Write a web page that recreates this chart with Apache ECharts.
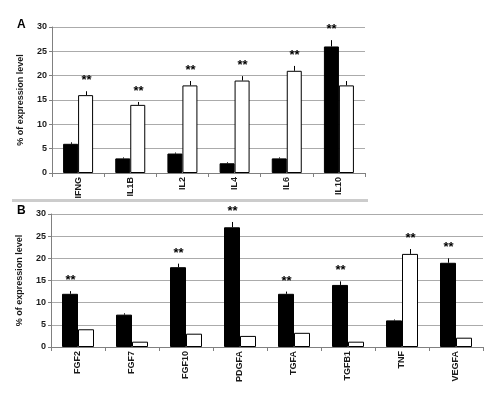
<!DOCTYPE html>
<html><head><meta charset="utf-8">
<script src="https://cdn.jsdelivr.net/npm/echarts@6/dist/echarts.min.js"></script>
<style>html,body{margin:0;padding:0;background:#fff}#c{width:500px;height:393px}</style>
</head><body><div id="c"></div>
<script>
// Panel A data
const catsA = ['IFNG','IL1B','IL2','IL4','IL6','IL10'];
const blackA = [6,3,4,2,3,26];
const whiteA = [16,14,18,19,21,18];
const blackErrA = [0.3,0.2,0.2,0.2,0.2,1.3];
const whiteErrA = [0.8,0.6,0.9,0.9,1.0,0.9];
const starsA = ['white','white','white','white','white','black'];
// Panel B data
const catsB = ['FGF2','FGF7','FGF10','PDGFA','TGFA','TGFB1','TNF','VEGFA'];
const blackB = [12,7.3,18,27,12,14,6,19];
const whiteB = [4,1.2,3,2.5,3.2,1.2,21,2.1];
const blackErrB = [0.6,0.3,0.8,1.2,0.5,0.8,0.2,1.0];
const whiteErrB = [0,0,0,0,0,0,1.1,0];
const starsB = ['black','','black','black','black','black','white','black'];
const yTicks = [0,5,10,15,20,25,30];

const FONT = 'Liberation Sans, Arial, sans-serif';
const TXT = '#1a1a1a';

function errSeries(idx, vals, errs, stars, which, sign, bw) {
  return {
    type: 'custom', xAxisIndex: idx, yAxisIndex: idx, z: 5,
    data: vals.map((v,i)=>[i, v, errs[i], stars[i]===which ? 1 : 0]),
    encode: {x:0, y:1},
    renderItem: function(params, api) {
      const i = api.value(0), v = api.value(1), e = api.value(2), s = api.value(3);
      const p0 = api.coord([i, v]);
      const p1 = api.coord([i, v + e]);
      const x = Math.round(p0[0] + sign * bw / 2) + 0.5;
      const children = [];
      if (e > 0) {
        children.push({type:'line', shape:{x1:x, y1:p0[1], x2:x, y2:p1[1]}, style:{stroke:'#000', lineWidth:1}});
      }
      if (s) {
        children.push({type:'text', x: x, y: p1[1] - 4, style:{text:'**', font:'bold 13px ' + FONT, fill:'#000', align:'center', verticalAlign:'bottom'}});
      }
      return {type:'group', children};
    }
  };
}

function axes(cats, gridIdx) {
  return {
    x: {
      type:'category', gridIndex: gridIdx, data: cats,
      axisLine:{lineStyle:{color:'#808080', width:1}},
      axisTick:{show:true, length:4, lineStyle:{color:'#808080'}},
      axisLabel:{rotate:90, margin:4, fontFamily:FONT, fontSize:9, fontWeight:'bold', color:TXT},
      splitLine:{show:false}
    },
    y: {
      type:'value', gridIndex: gridIdx, min:0, max:30, interval:5,
      name:'% of expression level', nameLocation:'middle', nameGap:27,
      nameTextStyle:{fontFamily:FONT, fontSize:9, fontWeight:'bold', color:TXT},
      axisLine:{show:true, lineStyle:{color:'#808080', width:1}},
      axisTick:{show:true, length:3, lineStyle:{color:'#808080'}},
      axisLabel:{margin:5, fontFamily:FONT, fontSize:9, fontWeight:'bold', color:TXT},
      splitLine:{show:true, lineStyle:{color:'#ababab', width:1}}
    }
  };
}

const aA = axes(catsA, 0), aB = axes(catsB, 1);
const bwA = 15, bwB = 16;

const chart = echarts.init(document.getElementById('c'), null, {renderer:'canvas'});
chart.setOption({
  animation:false,
  backgroundColor:'#fff',
  grid:[
    {left:52, top:27, width:313, height:146},
    {left:51, top:214, width:432, height:133}
  ],
  xAxis:[aA.x, aB.x],
  yAxis:[aA.y, aB.y],
  graphic:[
    {type:'rect', shape:{x:12, y:199, width:356, height:3}, style:{fill:'#cccccc'}},
    {type:'text', left:17, top:19, style:{text:'A', font:'bold 12px ' + FONT, fill:'#000'}},
    {type:'text', left:17, top:205, style:{text:'B', font:'bold 12px ' + FONT, fill:'#000'}}
  ],
  series:[
    {type:'bar', xAxisIndex:0, yAxisIndex:0, data:blackA, barWidth:bwA, barGap:'0%', itemStyle:{color:'#000', borderColor:'#000', borderWidth:1}},
    {type:'bar', xAxisIndex:0, yAxisIndex:0, data:whiteA, barWidth:bwA, barGap:'0%', itemStyle:{color:'#fff', borderColor:'#000', borderWidth:1}},
    {type:'bar', xAxisIndex:1, yAxisIndex:1, data:blackB, barWidth:bwB, barGap:'0%', itemStyle:{color:'#000', borderColor:'#000', borderWidth:1}},
    {type:'bar', xAxisIndex:1, yAxisIndex:1, data:whiteB, barWidth:bwB, barGap:'0%', itemStyle:{color:'#fff', borderColor:'#000', borderWidth:1}},
    errSeries(0, blackA, blackErrA, starsA, 'black', -1, bwA),
    errSeries(0, whiteA, whiteErrA, starsA, 'white', 1, bwA),
    errSeries(1, blackB, blackErrB, starsB, 'black', -1, bwB),
    errSeries(1, whiteB, whiteErrB, starsB, 'white', 1, bwB)
  ]
});
</script></body></html>
